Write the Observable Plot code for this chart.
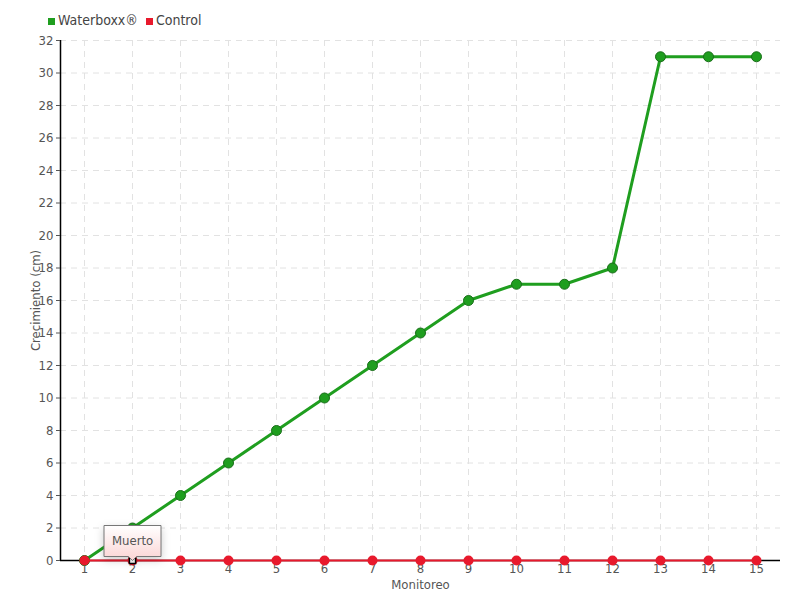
<!DOCTYPE html>
<html><head><meta charset="utf-8">
<script src="https://cdn.jsdelivr.net/npm/d3@7"></script>
<script src="https://cdn.jsdelivr.net/npm/@observablehq/plot@0.6"></script>
<style>
body{margin:0;background:#fff;font-family:"DejaVu Sans",sans-serif;font-stretch:condensed;}
#wrap{position:relative;width:800px;height:600px;}
#legend{position:absolute;left:48px;top:12px;font-size:14px;color:#444;display:flex;gap:8px;align-items:center;font-stretch:condensed;}
#legend span.sw{display:inline-block;width:7px;height:7px;margin-right:3px;vertical-align:middle;}
svg text{font-stretch:condensed;}
</style></head><body>
<div id="wrap"><div id="legend"></div></div>
<script>
const monitoreo = [1,2,3,4,5,6,7,8,9,10,11,12,13,14,15];
const waterboxx = [0,2,4,6,8,10,12,14,16,17,17,18,31,31,31];
const control = [0,0,0,0,0,0,0,0,0,0,0,0,0,0,0];
const seriesNames = ["Waterboxx®","Control"];
const seriesColors = ["#1f9e1f","#e8192c"];
const yTicks = d3.range(0,33,2);
const note = {x:2, y:0, text:"Muerto"};

const wData = monitoreo.map((m,i)=>({x:m,y:waterboxx[i]}));
const cData = monitoreo.map((m,i)=>({x:m,y:control[i]}));

const marks = [
  Plot.gridX(monitoreo,{stroke:"#e2e2e2",strokeOpacity:1,strokeDasharray:"6,5"}),
  Plot.gridY(yTicks,{stroke:"#e2e2e2",strokeOpacity:1,strokeDasharray:"6,5"}),
  Plot.ruleX([0.5],{stroke:"#000",strokeWidth:1.5}),
  Plot.ruleY([0],{stroke:"#000",strokeWidth:1.5}),
  Plot.axisY(yTicks,{tickSize:4,tickPadding:3,fontSize:13,color:"#555",label:null}),
  Plot.axisX(monitoreo,{tickSize:0,tickPadding:3,fontSize:13,color:"#555",label:null}),
  Plot.text(["Monitoreo"],{frameAnchor:"bottom",dy:28,fontSize:13,fill:"#555"}),
  Plot.text(["Crecimiento (cm)"],{frameAnchor:"left",dx:-25,rotate:-90,textAnchor:"middle",fontSize:13,fill:"#555"}),
  Plot.line(wData,{x:"x",y:"y",stroke:seriesColors[0],strokeWidth:3}),
  Plot.dot(wData,{x:"x",y:"y",r:5,fill:seriesColors[0],stroke:"#1a6e1a",strokeWidth:1}),
  Plot.line(cData,{x:"x",y:"y",stroke:seriesColors[1],strokeWidth:2}),
  Plot.dot(cData,{x:"x",y:"y",r:5,fill:seriesColors[1],stroke:"none"}),
  Plot.dot([note],{x:"x",y:"y",symbol:"square",r:3.5,fill:"#fff",stroke:"#000",strokeWidth:1.5})
];
if (Plot.tip) {
  marks.push(Plot.tip([note],{x:"x",y:"y",title:"text",anchor:"bottom",fill:"url(#tipgrad)",stroke:"#777",fontSize:13,textPadding:8,pointerSize:8}));
} else {
  marks.push(Plot.text([note],{x:"x",y:"y",text:"text",dy:-20,fontSize:13,fill:"#555"}));
}

const chart = Plot.plot({
  width:800,height:600,
  marginLeft:60,marginRight:20,marginTop:40,marginBottom:40,
  style:{fontFamily:"'DejaVu Sans',sans-serif",background:"#fff",overflow:"visible"},
  x:{domain:[0.5,15.5],axis:null},
  y:{domain:[0,32],axis:null},
  marks
});
const defs = d3.select(chart).insert("defs",":first-child");
const g = defs.append("linearGradient").attr("id","tipgrad").attr("x1",0).attr("y1",0).attr("x2",0).attr("y2",1);
g.append("stop").attr("offset","0%").attr("stop-color","#fff");
g.append("stop").attr("offset","100%").attr("stop-color","#fbd4d4");
d3.select(chart).selectAll("text").style("fill","#555");
document.getElementById("wrap").prepend(chart);
chart.style.position="absolute";chart.style.left="0";chart.style.top="0";

const lg = d3.select("#legend");
seriesNames.forEach((n,i)=>{
  const it = lg.append("div");
  it.append("span").attr("class","sw").style("background",seriesColors[i]);
  it.append("span").text(n);
});
</script></body></html>
